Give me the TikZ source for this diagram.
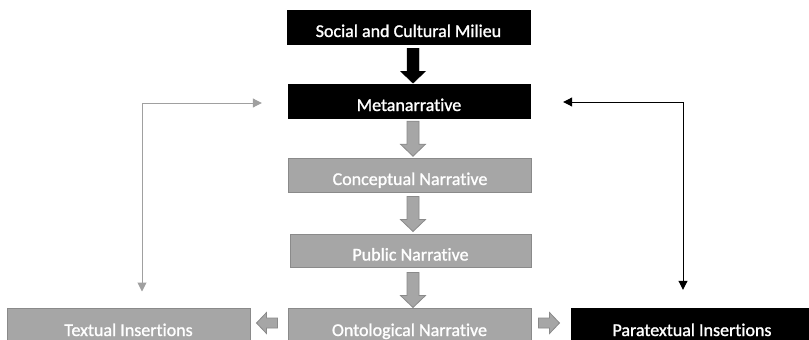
\documentclass[tikz,border=0pt]{standalone}
\usepackage{fontspec}
\setmainfont{Carlito}[Ligatures=NoCommon]
\newfontfamily\boxfont{Carlito}[Ligatures=NoCommon, FakeBold=1.2]
\usetikzlibrary{arrows.meta,calc}
\definecolor{boxgray}{HTML}{A6A6A6}
\definecolor{boxedge}{HTML}{8A8A8A}
\definecolor{linegray}{HTML}{A0A0A0}
\tikzset{
  base/.style={rectangle, minimum height=34pt, inner xsep=0pt, inner ysep=0pt,
    text height=20pt, text depth=0pt, font=\boxfont\fontsize{18pt}{20pt}\selectfont, text=white},
  blackbox/.style={base, fill=black, draw=black},
  graybox/.style={base, fill=boxgray, draw=boxedge, line width=1pt},
  pics/downarr/.style={code={
    \draw[#1] (-6,0) -- (6,0) -- (6,23) -- (12.5,23) -- (0,35) -- (-12.5,23) -- (-6,23) -- cycle;}},
  pics/sidearr/.style={code={
    \draw[#1] (0,-5) -- (11,-5) -- (11,-10.5) -- (21,0) -- (11,10.5) -- (11,5) -- (0,5) -- cycle;}},
  graytip/.style={fill=boxgray, draw=boxedge, line width=0.8pt},
  blacktip/.style={fill=black, draw=black},
  conn/.style={line width=1pt, {Triangle[length=9pt,width=9pt]}-{Triangle[length=9pt,width=9pt]}}
}
\begin{document}
\begin{tikzpicture}[x=1pt,y=-1pt]
\useasboundingbox (0,0) rectangle (809,340);
\clip (0,0) rectangle (809,340);
\fill[white] (0,0) rectangle (809,340);
\node[blackbox, minimum width=243pt] (soc) at (408.5,27) {Social and Cultural Milieu};
\node[blackbox, minimum width=242pt] (meta) at (409,101) {Metanarrative};
\node[graybox, minimum width=243pt] (conc) at (410,175) {Conceptual Narrative};
\node[graybox, minimum width=241pt, minimum height=33pt] (pub) at (410.5,250.5) {Public Narrative};
\node[graybox, minimum width=243pt, minimum height=36pt] (onto) at (409.5,326) {Ontological Narrative};
\node[graybox, minimum width=243pt, minimum height=36pt] (textual) at (128.5,326) {Textual Insertions};
\node[blackbox, minimum width=242pt, minimum height=36pt] (para) at (692,326) {Paratextual Insertions};
% block arrows
\pic at ($(soc.south)+(4.5,4)$) {downarr=blacktip};
\pic at ($(meta.south)+(4,3)$) {downarr=graytip};
\pic at ($(conc.south)+(3,4)$) {downarr=graytip};
\pic at ($(pub.south)+(2.5,5)$) {downarr=graytip};
\pic[xscale=-1] at ($(onto.west)+(-10,-3)$) {sidearr=graytip};
\pic at ($(onto.east)+(7,-3)$) {sidearr=graytip};
% connectors
\draw[conn, draw=linegray] ($(meta.west)+(-26,2)$) -| ($(textual.north)+(13.5,-16)$);
\draw[conn, draw=black] ($(meta.east)+(33,1)$) -| ($(para.north)+(-9,-18)$);
\end{tikzpicture}
\end{document}
